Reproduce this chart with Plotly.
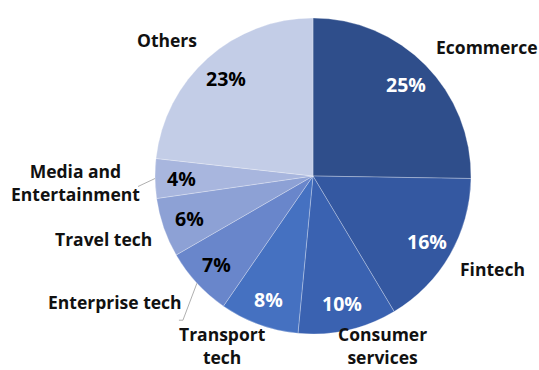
import math
import plotly.graph_objects as go

# Share of funding by sector
sectors = ["Ecommerce", "Fintech", "Consumer<br>services", "Transport<br>tech",
           "Enterprise tech", "Travel tech", "Media and<br>Entertainment", "Others"]
shares = [25, 16, 10, 8, 7, 6, 4, 23]
slice_colors = ["#2F4E8B", "#3458A1", "#3A62B1", "#4571C1",
                "#6986CB", "#8DA1D5", "#A8B6DE", "#C3CDE7"]
pct_colors = ["white", "white", "white", "white", "black", "black", "black", "black"]

W, H = 539, 370
CX, CY, R = 313, 176, 158  # pie centre and radius in pixels

# pixel offsets of each sector name from the rim point at the slice middle
name_offsets = [(61, -18), (43, 14), (35, 15), (-36, 21),
                (-82, 19), (-60, 11), (-80, 4), (-41, -18)]
# leader lines: list of pixel offsets from the rim point (None = no line)
leader_paths = [None, None, None, None,
                [(-14, 37), (-18, 37)], None,
                [(-17, 8)], None]

FONT = "Open Sans"

fig = go.Figure(go.Pie(
    labels=sectors,
    values=shares,
    sort=False,
    direction="clockwise",
    rotation=0,
    marker=dict(colors=slice_colors, line=dict(color="rgba(255,255,255,0.35)", width=0.8)),
    textinfo="none",
    hoverinfo="label+percent",
    showlegend=False,
    domain=dict(x=[(CX - R) / W, (CX + R) / W], y=[(H - CY - R) / H, (H - CY + R) / H]),
))


def to_paper(px, py):
    return px / W, 1 - py / H


total = sum(shares)
annotations = []
shapes = []
cum = 0
for name, v, tc, (ox, oy), path in zip(sectors, shares, pct_colors, name_offsets, leader_paths):
    mid = (cum + v / 2) / total * 2 * math.pi
    cum += v
    sx, sy = math.sin(mid), -math.cos(mid)
    # percentage inside the slice
    px, py = to_paper(CX + 0.83 * R * sx, CY + 0.83 * R * sy)
    annotations.append(dict(
        x=px, y=py, xref="paper", yref="paper", showarrow=False,
        xanchor="center", yanchor="middle",
        text=f"<b>{round(v / total * 100)}%</b>",
        font=dict(family=FONT, size=19.5, color=tc),
    ))
    # sector name outside the pie
    rx, ry = CX + R * sx, CY + R * sy
    nx, ny = to_paper(rx + ox, ry + oy)
    annotations.append(dict(
        x=nx, y=ny, xref="paper", yref="paper", showarrow=False,
        xanchor="center", yanchor="middle",
        text=f"<b>{name}</b>",
        font=dict(family=FONT, size=17.5, color="#111111"),
    ))
    # thin grey leader line from the rim towards the name
    if path:
        pts = [(rx, ry)] + [(rx + dx, ry + dy) for dx, dy in path]
        d = "M " + " L ".join(f"{to_paper(a, b)[0]:.5f},{to_paper(a, b)[1]:.5f}" for a, b in pts)
        shapes.append(dict(type="path", path=d, xref="paper", yref="paper",
                           line=dict(color="#A6A6A6", width=0.9)))

fig.update_layout(
    width=W, height=H,
    margin=dict(l=0, r=0, t=0, b=0),
    paper_bgcolor="white",
    plot_bgcolor="white",
    annotations=annotations,
    shapes=shapes,
)

fig.write_html("out.html")
